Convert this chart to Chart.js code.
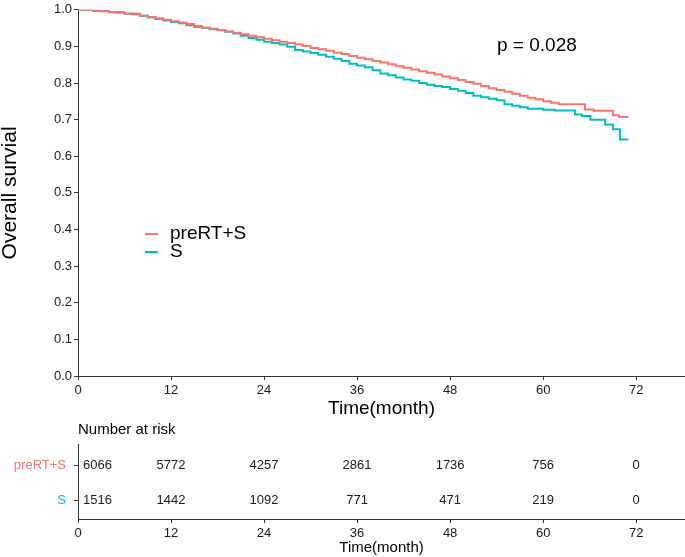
<!DOCTYPE html>
<html>
<head>
<meta charset="utf-8">
<script src="https://cdn.jsdelivr.net/npm/chart.js@4/dist/chart.umd.min.js"></script>
<style>
  html, body { margin: 0; padding: 0; background: #fff; }
  #wrap { width: 685px; height: 557px; position: relative; }
  #km { position: absolute; left: 0; top: 0; }
  #risk { position: absolute; left: 0; top: 420px; }
</style>
</head>
<body>
<div id="wrap">
  <canvas id="km" width="685" height="420"></canvas>
  <canvas id="risk" width="685" height="137"></canvas>
</div>
<script>
// Kaplan-Meier step points (month, survival)
const groupNames = ['preRT+S', 'S'];
const groupColors = ['#F8766D', '#00BFC4'];

const preRtTimes = [0, 2, 3, 4, 5, 6, 7, 8, 9, 10, 11, 12, 13, 14, 15, 16, 17, 18, 19, 20,
  21, 22, 23, 24, 25, 26, 27, 28, 29, 30, 31, 32, 33, 34, 35, 36, 37, 38, 39, 40,
  41, 42, 43, 44, 45, 46, 47, 48, 49, 50, 51, 52, 53, 54, 55, 56, 57, 58, 59, 60,
  61, 62, 65.4, 66.5, 69, 69.8, 71];
const preRtSurv = [1.000, 0.998, 0.996, 0.994, 0.992, 0.990, 0.987, 0.984, 0.980, 0.977,
  0.973, 0.969, 0.965, 0.961, 0.956, 0.952, 0.948, 0.945, 0.941, 0.937,
  0.933, 0.929, 0.925, 0.921, 0.917, 0.913, 0.909, 0.905, 0.901, 0.896,
  0.892, 0.888, 0.883, 0.879, 0.874, 0.869, 0.865, 0.860, 0.856, 0.851,
  0.846, 0.842, 0.837, 0.832, 0.828, 0.823, 0.818, 0.813, 0.808, 0.803,
  0.798, 0.792, 0.786, 0.781, 0.776, 0.771, 0.765, 0.760, 0.756, 0.750,
  0.746, 0.742, 0.728, 0.724, 0.712, 0.707, 0.707];

const sTimes = [0, 2, 4, 6, 8, 9, 10, 11, 12, 13, 14, 15, 16, 17, 18, 19, 20,
  21, 22, 23, 24, 25, 26, 27, 28, 29, 30, 31, 32, 33, 34, 35, 36, 37, 38, 39, 40,
  41, 42, 43, 44, 45, 46, 47, 48, 49, 50, 51, 52, 53, 54, 55, 56, 57, 58, 60,
  61.5, 64.1, 65, 66.1, 68, 69, 69.9, 71];
const sSurv = [1.000, 0.997, 0.993, 0.989, 0.984, 0.979, 0.975, 0.971, 0.967, 0.963,
  0.958, 0.953, 0.950, 0.947, 0.944, 0.940, 0.935,
  0.929, 0.923, 0.918, 0.913, 0.909, 0.905, 0.899, 0.890, 0.886, 0.882,
  0.877, 0.872, 0.866, 0.860, 0.853, 0.848, 0.843, 0.835, 0.826, 0.821,
  0.815, 0.810, 0.806, 0.800, 0.795, 0.792, 0.789, 0.784, 0.779, 0.773,
  0.765, 0.761, 0.757, 0.753, 0.742, 0.738, 0.734, 0.730, 0.727,
  0.725, 0.714, 0.710, 0.700, 0.687, 0.674, 0.646, 0.646];

// number at risk table
const riskTimes = [0, 12, 24, 36, 48, 60, 72];
const riskPreRt = [6066, 5772, 4257, 2861, 1736, 756, 0];
const riskS = [1516, 1442, 1092, 771, 471, 219, 0];

const pValueText = 'p = 0.028';

const FONT = "'Liberation Sans', Arial, sans-serif";
Chart.defaults.font.family = FONT;
Chart.defaults.color = '#1a1a1a';

function toPoints(times, surv) {
  return times.map((t, i) => ({ x: t, y: surv[i] }));
}

const xMax = 78.3;

// draws the legend and p value inside the plot
const kmExtras = {
  id: 'kmExtras',
  afterDraw(chart) {
    const ctx = chart.ctx;
    ctx.save();
    ctx.font = '19px ' + FONT;
    ctx.fillStyle = '#000';
    ctx.textBaseline = 'middle';
    ctx.textAlign = 'left';
    ctx.fillText(pValueText, 497, 46);

    const rowsY = [234, 252];
    groupNames.forEach((name, i) => {
      ctx.strokeStyle = groupColors[i];
      ctx.lineWidth = 2;
      ctx.beginPath();
      ctx.moveTo(145, rowsY[i]);
      ctx.lineTo(158, rowsY[i]);
      ctx.stroke();
      ctx.fillStyle = '#000';
      ctx.fillText(name, 170, rowsY[i]);
    });
    ctx.restore();
  }
};

new Chart(document.getElementById('km'), {
  type: 'line',
  data: {
    datasets: [
      {
        label: groupNames[0],
        data: toPoints(preRtTimes, preRtSurv),
        borderColor: groupColors[0],
        borderWidth: 2,
        stepped: true,
        pointRadius: 0,
        fill: false
      },
      {
        label: groupNames[1],
        data: toPoints(sTimes, sSurv),
        borderColor: groupColors[1],
        borderWidth: 2,
        stepped: true,
        pointRadius: 0,
        fill: false
      }
    ]
  },
  options: {
    responsive: false,
    animation: false,
    layout: { padding: { top: 7, right: 0, left: 0, bottom: 0 } },
    plugins: {
      legend: { display: false },
      tooltip: { enabled: false }
    },
    scales: {
      x: {
        type: 'linear',
        min: 0,
        max: xMax,
        afterFit: s => { s.height = 44; },
        ticks: { stepSize: 12, includeBounds: false, font: { size: 13 }, padding: 3, maxRotation: 0 },
        grid: { display: true, drawOnChartArea: false, drawTicks: true, tickLength: 4, color: '#333' },
        border: { display: true, color: '#333', width: 1 },
        title: { display: true, text: 'Time(month)', font: { size: 19 }, color: '#000', padding: 0 }
      },
      y: {
        min: 0,
        max: 1,
        afterFit: s => { s.width = 78; },
        ticks: { stepSize: 0.1, font: { size: 13 }, padding: 2, callback: v => v.toFixed(1) },
        grid: { display: true, drawOnChartArea: false, drawTicks: true, tickLength: 4, color: '#333' },
        border: { display: true, color: '#333', width: 1 },
        title: { display: true, text: 'Overall survial', font: { size: 21, lineHeight: 1 }, color: '#000', padding: 0 }
      }
    }
  },
  plugins: [kmExtras]
});

// number at risk table, drawn on its own scales
const riskRows = [riskPreRt, riskS];
const rowValues = [2, 1];

const riskText = {
  id: 'riskText',
  afterDraw(chart) {
    const ctx = chart.ctx;
    const xs = chart.scales.x;
    const ys = chart.scales.y;
    ctx.save();
    ctx.fillStyle = '#000';
    ctx.textBaseline = 'middle';
    ctx.font = '15px ' + FONT;
    ctx.textAlign = 'left';
    ctx.fillText('Number at risk', 78, 10);

    ctx.font = '13px ' + FONT;
    ctx.fillStyle = '#1a1a1a';
    riskRows.forEach((row, r) => {
      const y = ys.getPixelForValue(rowValues[r]);
      row.forEach((n, i) => {
        const x = xs.getPixelForValue(riskTimes[i]);
        if (riskTimes[i] === 0) {
          ctx.textAlign = 'left';
          ctx.fillText(String(n), x + 5, y);
        } else {
          ctx.textAlign = 'center';
          ctx.fillText(String(n), x, y);
        }
      });
    });
    ctx.restore();
  }
};

new Chart(document.getElementById('risk'), {
  type: 'scatter',
  data: { datasets: [] },
  options: {
    responsive: false,
    animation: false,
    layout: { padding: { top: 24, right: 0, left: 0, bottom: 0 } },
    plugins: {
      legend: { display: false },
      tooltip: { enabled: false }
    },
    scales: {
      x: {
        type: 'linear',
        min: 0,
        max: xMax,
        afterFit: s => { s.height = 38; },
        ticks: { stepSize: 12, includeBounds: false, font: { size: 13 }, padding: 3, maxRotation: 0 },
        grid: { display: true, drawOnChartArea: false, drawTicks: true, tickLength: 4, color: '#333' },
        border: { display: true, color: '#333', width: 1 },
        title: { display: true, text: 'Time(month)', font: { size: 15 }, color: '#000', padding: 0 }
      },
      y: {
        type: 'linear',
        min: 0.45,
        max: 2.63,
        afterFit: s => { s.width = 78; },
        afterBuildTicks: s => { s.ticks = rowValues.map(v => ({ value: v })); },
        ticks: {
          font: { size: 13 },
          padding: 8,
          callback: v => groupNames[rowValues.indexOf(v)],
          color: c => groupColors[rowValues.indexOf(c.tick.value)]
        },
        grid: { display: true, drawOnChartArea: false, drawTicks: true, tickLength: 4, color: '#333' },
        border: { display: true, color: '#333', width: 1 }
      }
    }
  },
  plugins: [riskText]
});
</script>
</body>
</html>
